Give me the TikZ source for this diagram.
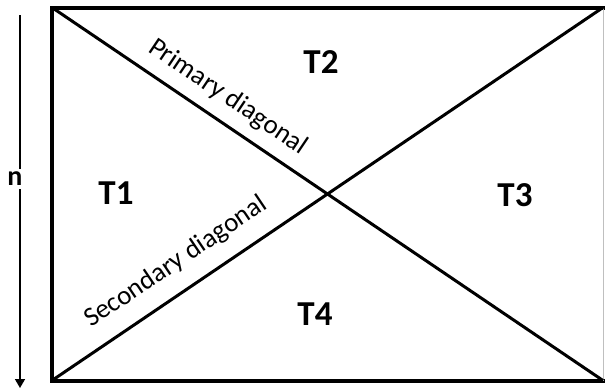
\documentclass[tikz,border=0pt]{standalone}
\usepackage{fontspec}
\setmainfont{Carlito}
\usetikzlibrary{arrows.meta}
\begin{document}
\begin{tikzpicture}[x=1pt,y=-1pt,
  frame/.style={line width=4pt, line cap=rect},
  diag/.style={line width=3pt},
  region/.style={font=\fontsize{35}{40}\selectfont\bfseries, inner sep=0pt},
  diaglabel/.style={font=\fontsize{27}{31}\selectfont, anchor=base, inner sep=0pt}]
\useasboundingbox (0,0) rectangle (606,388);

% corners of the square matrix
\coordinate (tl) at (52,7.5);
\coordinate (tr) at (603,7.5);
\coordinate (bl) at (52,380.5);
\coordinate (br) at (603,380.5);

% outline: three heavy sides, light right side
\draw[frame] (tr) -- (tl) -- (bl) -- (br);
\draw[gray!50, line width=1pt] (tr) -- (br);

% the two diagonals
\draw[diag] (tl) -- (br);
\draw[diag] (bl) -- (tr);

% the four triangular regions
\node[region] (t1) at (116,193) {T1};
\node[region] (t2) at (321,62) {T2};
\node[region] (t3) at (515,195) {T3};
\node[region] (t4) at (315,314) {T4};

% diagonal names written along the lines
\node[diaglabel, rotate=-34] (pd) at (224,103) {Primary diagonal};
\node[diaglabel, rotate=34] (sd) at (180,268) {Secondary diagonal};

% size arrow on the left
\coordinate (atop) at (20,15);
\coordinate (abot) at (20,388);
\draw[line width=1.6pt, -{Triangle[width=10pt,length=9pt]}] (atop) -- (abot);
\node[fill=white, font=\fontsize{28}{32}\selectfont\bfseries, inner sep=3pt] (n) at (15,179) {n};
\end{tikzpicture}
\end{document}
